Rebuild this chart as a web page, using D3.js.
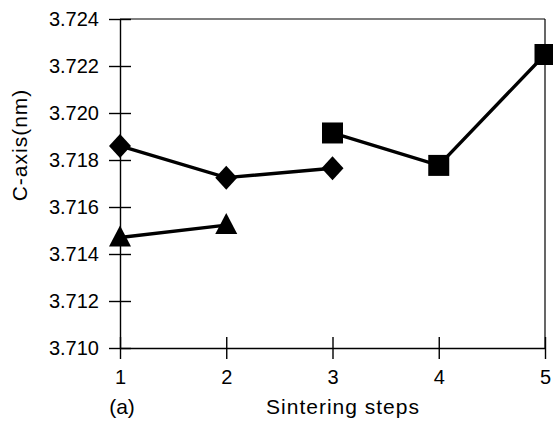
<!DOCTYPE html>
<html>
<head>
<meta charset="utf-8">
<script src="https://cdn.jsdelivr.net/npm/d3@7"></script>
<style>
  body { margin: 0; background: #fff; }
  svg text { font-family: "Liberation Sans", Arial, sans-serif; fill: #000; }
  .axis text { font-size: 20px; }
  .axis line, .axis path { stroke: #000; stroke-width: 1.4; }
  .axis-title { font-size: 21px; letter-spacing: 1px; }
</style>
</head>
<body>
<div id="chart"></div>
<script>
// values
const steps = [1, 2, 3, 4, 5];
const yTicks = [3.710, 3.712, 3.714, 3.716, 3.718, 3.720, 3.722, 3.724];
const diamondSteps = [1, 2, 3];
const diamondValues = [3.71860, 3.71725, 3.71765];
const triangleSteps = [1, 2];
const triangleValues = [3.71470, 3.71523];
const squareSteps = [3, 4, 5];
const squareValues = [3.71915, 3.71777, 3.72249];

class StepPlot {
    constructor(_config) {
        this.config = {
            parentElement: _config.parentElement,
            containerWidth: _config.containerWidth || 553,
            containerHeight: _config.containerHeight || 423,
            margin: _config.margin || {top: 19, right: 8, bottom: 75, left: 120}
        };
        this.initVis();
        this.renderVis();
    }

    initVis() {
        let vis = this;
        vis.width = vis.config.containerWidth - vis.config.margin.left - vis.config.margin.right;
        vis.height = vis.config.containerHeight - vis.config.margin.top - vis.config.margin.bottom;

        vis.svg = d3.select(vis.config.parentElement)
            .append('svg')
            .attr('width', vis.config.containerWidth)
            .attr('height', vis.config.containerHeight);

        vis.chart = vis.svg.append('g')
            .attr('transform', `translate(${vis.config.margin.left},${vis.config.margin.top})`);

        vis.xScale = d3.scaleLinear().domain([1, 5]).range([0, vis.width]);
        vis.yScale = d3.scaleLinear().domain([3.710, 3.724]).range([vis.height, 0]);

        vis.xAxis = d3.axisBottom(vis.xScale)
            .tickValues(steps)
            .tickFormat(d3.format('d'))
            .tickSize(11)
            .tickPadding(11)
            .tickSizeOuter(0);

        vis.yAxis = d3.axisLeft(vis.yScale)
            .tickValues(yTicks)
            .tickFormat(d3.format('.3f'))
            .tickSize(11)
            .tickPadding(10)
            .tickSizeOuter(0);

        // frame on top and right
        vis.chart.append('line')
            .attr('x1', 0).attr('x2', vis.width)
            .attr('y1', 0).attr('y2', 0)
            .attr('stroke', '#000').attr('stroke-width', 1.2);
        vis.chart.append('line')
            .attr('x1', vis.width).attr('x2', vis.width)
            .attr('y1', 0).attr('y2', vis.height)
            .attr('stroke', '#000').attr('stroke-width', 1.2);

        vis.xAxisG = vis.chart.append('g').attr('class', 'axis x-axis').attr('transform', `translate(0,${vis.height})`);
        vis.yAxisG = vis.chart.append('g').attr('class', 'axis y-axis');

        vis.svg.append('text').attr('class', 'axis-title')
            .attr('transform', 'translate(27,145) rotate(-90)')
            .style('text-anchor', 'middle')
            .text('C-axis(nm)');
        vis.svg.append('text').attr('class', 'axis-title')
            .attr('x', 343).attr('y', 414)
            .style('text-anchor', 'middle')
            .text('Sintering steps');
        vis.svg.append('text').attr('class', 'axis-title')
            .attr('x', 122).attr('y', 414)
            .style('text-anchor', 'middle')
            .style('letter-spacing', '0px')
            .text('(a)');
    }

    renderVis() {
        let vis = this;

        vis.xAxisG.call(vis.xAxis);
        vis.xAxisG.selectAll('.tick line').attr('y1', -11);
        vis.yAxisG.call(vis.yAxis);
        vis.yAxisG.selectAll('.tick line').attr('x1', 11);

        const diamond = {
            draw(ctx, size) {
                const w = 11, h = 12;
                ctx.moveTo(0, -h); ctx.lineTo(w, 0); ctx.lineTo(0, h); ctx.lineTo(-w, 0); ctx.closePath();
            }
        };
        const triangle = {
            draw(ctx, size) {
                ctx.moveTo(0, -12); ctx.lineTo(11, 9); ctx.lineTo(-11, 9); ctx.closePath();
            }
        };

        const series = [
            {name: 'diamond', xs: diamondSteps, ys: diamondValues, shape: diamond},
            {name: 'triangle', xs: triangleSteps, ys: triangleValues, shape: triangle},
            {name: 'square', xs: squareSteps, ys: squareValues, shape: d3.symbolSquare, size: 441}
        ];

        const line = d3.line()
            .x(d => vis.xScale(d[0]))
            .y(d => vis.yScale(d[1]));

        series.forEach(s => {
            const pts = s.xs.map((x, i) => [x, s.ys[i]]);
            vis.chart.append('path')
                .datum(pts)
                .attr('fill', 'none')
                .attr('stroke', '#000')
                .attr('stroke-width', 3.4)
                .attr('d', line);

            vis.chart.selectAll(`.pt-${s.name}`)
                .data(pts)
                .join('path')
                .attr('class', `pt-${s.name}`)
                .attr('transform', d => `translate(${vis.xScale(d[0])},${vis.yScale(d[1])})`)
                .attr('d', d3.symbol().type(s.shape).size(s.size || 64))
                .attr('fill', '#000');
        });
    }
}

new StepPlot({parentElement: '#chart'});
</script>
</body>
</html>
